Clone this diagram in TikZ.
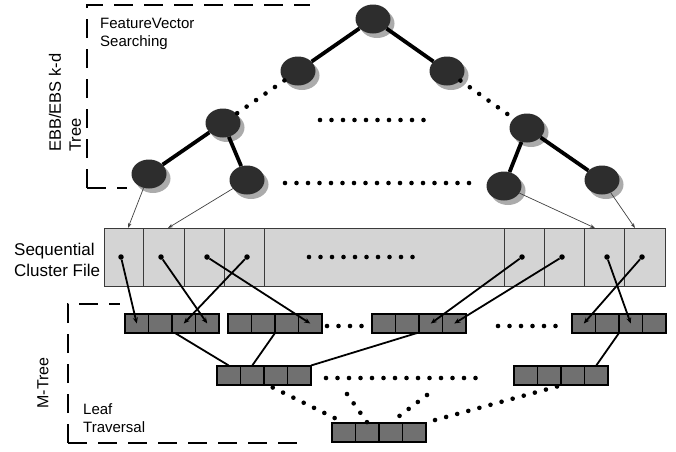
\documentclass[tikz,border=0pt]{standalone}
\usepackage{fontspec}
\setmainfont{Liberation Sans}
\usetikzlibrary{shapes.geometric,arrows.meta,calc,backgrounds}
\definecolor{nodefill}{HTML}{2D2D2D}
\definecolor{shadowgray}{HTML}{ABABAB}
\definecolor{filefill}{HTML}{D4D4D4}
\definecolor{fileline}{HTML}{3A3A3A}
\definecolor{leaffill}{HTML}{707070}
\newcommand\leafbox[3]{%
  \foreach \i in {1,...,4} {\node[lcell] (#1-\i) at ({#2+(\i-0.5)*23.5},#3) {};}
  \draw[line width=2pt] (#1-1.north west) rectangle (#1-4.south east);}
\begin{document}
\begin{tikzpicture}[x=1pt,y=-1pt,
  tnode/.style={ellipse, fill=nodefill, minimum width=35pt, minimum height=29pt, inner sep=0pt},
  tedge/.style={line width=3.8pt},
  dotline/.style={line width=4.6pt, line cap=round, dash pattern=on 0pt off 11.5pt},
  thinarrow/.style={line width=0.7pt, draw=black!75, -{Stealth[length=5pt,width=3.5pt]}},
  ptrarrow/.style={line width=1.8pt, -{Stealth[length=6pt,width=5pt]}},
  fcell/.style={rectangle, fill=filefill, draw=fileline, line width=0.9pt, minimum height=58pt, inner sep=0pt, outer sep=0pt},
  lcell/.style={rectangle, fill=leaffill, draw=black, line width=1.5pt, minimum width=23.5pt, minimum height=19pt, inner sep=0pt, outer sep=0pt},
  pdot/.style={circle, fill=black, inner sep=0pt, minimum size=5.5pt},
  bdash/.style={line width=2.8pt, dash pattern=on 19pt off 11pt},
  lbl/.style={inner sep=0pt, align=left}]
\useasboundingbox (0,0) rectangle (676,451);

% dashed region borders
\draw[bdash] (87,188) -- (87,5) -- (310,5);
\draw[bdash] (87,188) -- (127,188);
\draw[bdash] (68,443) -- (68,304) -- (120,304);
\draw[bdash] (68,443) -- (303,443);

% labels
\node[lbl, anchor=west, font=\fontsize{15}{18}\selectfont] (lfv) at (100,34) {FeatureVector\\Searching};
\node[lbl, anchor=west, rotate=90, font=\fontsize{16.5}{20}\selectfont] (lebb) at (65,152) {EBB/EBS k-d\\Tree};
\node[lbl, anchor=west, font=\fontsize{17}{21}\selectfont] (lseq) at (14,259.5) {Sequential\\Cluster File};
\node[lbl, rotate=90, font=\fontsize{16}{19}\selectfont] (lmt) at (43,383) {M-Tree};
\node[lbl, anchor=west, font=\fontsize{15}{18}\selectfont] (lleaf) at (83,418) {Leaf\\Traversal};

% tree nodes
\node[tnode] (r) at (373,19) {};
\node[tnode] (l1) at (298,71) {};
\node[tnode] (r1) at (447,71) {};
\node[tnode] (l2) at (223,123) {};
\node[tnode] (r2) at (527,128) {};
\node[tnode] (la) at (149,174) {};
\node[tnode] (lb) at (247,180) {};
\node[tnode] (lc) at (504,186) {};
\node[tnode] (ld) at (602,180) {};
\begin{pgfonlayer}{background}
\foreach \n in {r,l1,r1,l2,r2,la,lb,lc,ld}
  \fill[shadowgray] ([shift={(4pt,-4.5pt)}]\n.center) ellipse [x radius=17.5pt, y radius=14.5pt];
\end{pgfonlayer}

\draw[tedge] (r) -- (l1);
\draw[tedge] (r) -- (r1);
\draw[tedge] (l2) -- (la);
\draw[tedge] (l2) -- (lb);
\draw[tedge] (r2) -- (lc);
\draw[tedge] (r2) -- (ld);
\draw[dotline] (l1) -- (l2);
\draw[dotline] (r1) -- (r2);
\coordinate (h1a) at (320,120);
\coordinate (h1b) at (426,120);
\coordinate (h2a) at (285,183);
\coordinate (h2b) at (472,183);
\draw[dotline] (h1a) -- (h1b);
\draw[dotline] (h2a) -- (h2b);

% sequential cluster file
\node[fcell, minimum width=39pt] (c1) at (123.5,257) {};
\node[fcell, minimum width=41pt] (c2) at (163.5,257) {};
\node[fcell, minimum width=40pt] (c3) at (204,257) {};
\node[fcell, minimum width=40pt] (c4) at (244,257) {};
\node[fcell, minimum width=240pt] (c5) at (384,257) {};
\node[fcell, minimum width=40pt] (c6) at (524,257) {};
\node[fcell, minimum width=40pt] (c7) at (564,257) {};
\node[fcell, minimum width=40pt] (c8) at (604,257) {};
\node[fcell, minimum width=41pt] (c9) at (644.5,257) {};
\coordinate (fe1) at (309,257);
\coordinate (fe2) at (415,257);
\draw[dotline] (fe1) -- (fe2);

\draw[thinarrow] (la) -- ([xshift=4.5pt]c1.north);
\draw[thinarrow] (lb) -- ([xshift=4.5pt]c2.north);
\draw[thinarrow] (lc) -- ([xshift=-9pt]c8.north);
\draw[thinarrow] (ld) -- ([xshift=-9.5pt]c9.north);

\node[pdot] (p1) at (121,257) {};
\node[pdot] (p2) at (161,257) {};
\node[pdot] (p3) at (207,257) {};
\node[pdot] (p4) at (247,257) {};
\node[pdot] (p5) at (522,257) {};
\node[pdot] (p6) at (562,257) {};
\node[pdot] (p7) at (607,257) {};
\node[pdot] (p8) at (642,257) {};

% M-tree leaf boxes
\leafbox{b1}{125}{323.5}
\leafbox{b2}{228}{323.5}
\leafbox{b3}{372}{323.5}
\leafbox{b4}{572}{323.5}
\leafbox{bA}{217}{375}
\leafbox{bB}{514}{375}
\leafbox{bC}{332}{432}

% pointers from cluster file to leaves
\draw[ptrarrow] (p1) -- (b1-1.center);
\draw[ptrarrow] (p2) -- (b1-4.center);
\draw[ptrarrow] (p3) -- (b2-4.center);
\draw[ptrarrow] (p4) -- (b1-3.center);
\draw[ptrarrow] (p5) -- (b3-3.center);
\draw[ptrarrow] (p6) -- (b3-4.center);
\draw[ptrarrow] (p7) -- (b4-3.center);
\draw[ptrarrow] (p8) -- (b4-1.center);

% M-tree parent links
\draw[line width=1.8pt] ([xshift=3pt]b1-3.south west) -- (bA-1.north);
\draw[line width=1.8pt] (b2-2.south east) -- (bA-2.north);
\draw[line width=1.8pt] ([xshift=-2pt]b3-2.south east) -- (bA-4.north east);
\draw[line width=1.8pt] (b4-2.south east) -- (bB-4.north);

% dotted ellipses and links
\coordinate (e1a) at (327,326);
\coordinate (e1b) at (363,326);
\coordinate (e2a) at (498,326);
\coordinate (e2b) at (557,326);
\coordinate (e3a) at (326,378);
\coordinate (e3b) at (477,378);
\draw[dotline] (e1a) -- (e1b);
\draw[dotline] (e2a) -- (e2b);
\draw[dotline] (e3a) -- (e3b);
\coordinate (s1) at (347,394);
\coordinate (s2) at (427,395);
\draw[dotline] ([xshift=-3pt,yshift=-3pt]bA-3.south) -- (bC-1.north);
\draw[dotline] (s1) -- (bC-2.north);
\draw[dotline] (s2) -- (bC-3.north);
\draw[dotline] ([xshift=-4pt,yshift=-2pt]bB-2.south east) -- (bC-4.north east);
\end{tikzpicture}
\end{document}
